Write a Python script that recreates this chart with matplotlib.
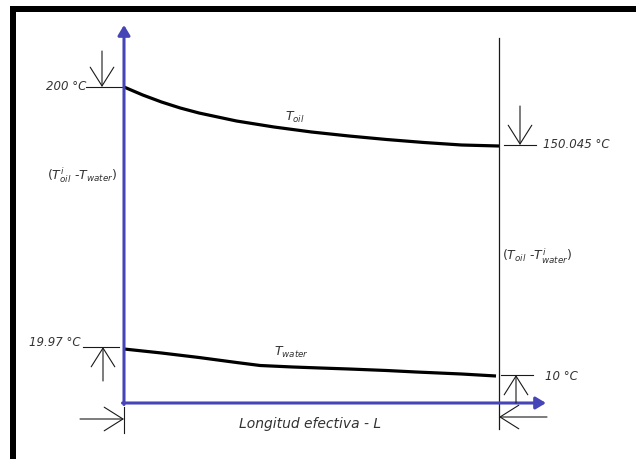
import matplotlib
matplotlib.use("Agg")
import matplotlib.pyplot as plt
from matplotlib.patches import Rectangle

# ---------------- data (schematic drawing units) ----------------
# position along the effective length, as a fraction of L
oil_pos = [0.0, 0.05, 0.10, 0.15, 0.20, 0.30, 0.40, 0.50, 0.60, 0.70, 0.80, 0.90, 1.0]
# drawn height of the oil temperature curve (not to scale)
oil_height = [316, 308, 301, 295, 290, 282, 276, 271, 267, 263.5, 260.5, 258, 257]
water_pos = [0.0, 0.10, 0.20, 0.30, 0.363, 0.45, 0.523, 0.60, 0.70, 0.779, 0.90, 0.992]
water_height = [54, 50, 45.5, 40.5, 37.5, 36, 35, 34, 32.5, 31, 29, 27]

temp_values = [200, 150.045, 19.97, 10]
temp_labels = ["200 °C", "150.045 °C", "19.97 °C", "10 °C"]
curve_labels = [r"$T_{oil}$", r"$T_{water}$"]
diff_labels = [r"$(T_{oil}^{i}\ $-$T_{water})$", r"$(T_{oil}\ $-$T_{water}^{i})$"]
xlabel = "Longitud efectiva - L"

# ---------------- layout helpers (pixel layout -> data) ----------------
W, H = 636, 460
X0, Y0, LPX = 124, 404, 375


def P(px, py):
    return ((px - X0) / LPX, Y0 - py)


fig = plt.figure(figsize=(W / 100, H / 100), dpi=100)
ax = fig.add_axes([0, 0, 1, 1])
ax.set_xlim(P(0, 0)[0], P(W, 0)[0])
ax.set_ylim(P(0, H)[1], P(0, 0)[1])
ax.axis("off")

BLUE = "#4545b8"
TXT = "#333333"
DARK = "#1a1a1a"

# black frame (left and top)
ax.add_patch(Rectangle(P(10, H), 6 / LPX, H - 7, color="black", lw=0))
ax.add_patch(Rectangle(P(10, 13), (W - 10) / LPX, 6, color="black", lw=0))

# blue axes with arrows
ax.annotate("", xy=P(124, 26), xytext=P(124, 405.5),
            arrowprops=dict(arrowstyle="-|>,head_length=0.6,head_width=0.36",
                            color=BLUE, lw=2.2, shrinkA=0, shrinkB=0,
                            mutation_scale=10))
ax.annotate("", xy=P(546, 404), xytext=P(122.5, 404),
            arrowprops=dict(arrowstyle="-|>,head_length=0.6,head_width=0.36",
                            color=BLUE, lw=2.2, shrinkA=0, shrinkB=0,
                            mutation_scale=10))

# right vertical line (end of L)
ax.plot(*zip(P(499, 39), P(499, 430)), color=DARK, lw=0.9)

# curves
ax.plot(oil_pos, oil_height, color="black", lw=2.3, solid_capstyle="butt",
        solid_joinstyle="round")
ax.plot(water_pos, water_height, color="black", lw=2.3, solid_capstyle="butt",
        solid_joinstyle="round")

OPEN = "->,head_length=1.35,head_width=0.85"


def marker_arrow(tip, tail):
    ax.annotate("", xy=P(*tip), xytext=P(*tail),
                arrowprops=dict(arrowstyle=OPEN, color=DARK, lw=0.8,
                                shrinkA=0, shrinkB=0, mutation_scale=10))


def hline(x1, x2, y):
    ax.plot(*zip(P(x1, y), P(x2, y)), color=DARK, lw=0.8)


# 200 °C
hline(86, 122, 88)
marker_arrow((102, 88), (102, 52))
# 150.045 °C
hline(504, 536, 146)
marker_arrow((520, 146), (520, 107))
# 19.97 °C
hline(83, 119, 348)
marker_arrow((103, 348), (103, 382))
# 10 °C
hline(501, 533, 376)
marker_arrow((516, 376), (516, 404))
# length markers
ax.plot(*zip(P(124, 408), P(124, 434)), color=DARK, lw=0.8)
marker_arrow((124, 420), (80, 420))
marker_arrow((499, 418), (547, 418))

tk = dict(color=TXT, fontsize=8.5, style="italic", family="DejaVu Sans")
ax.text(*P(86, 86), temp_labels[0], ha="right", va="center", **tk)
ax.text(*P(543, 145), temp_labels[1], ha="left", va="center", **tk)
ax.text(*P(81, 343), temp_labels[2], ha="right", va="center", **tk)
ax.text(*P(545, 377), temp_labels[3], ha="left", va="center", **tk)

mk = dict(color=TXT, fontsize=9)
ax.text(*P(295, 117), curve_labels[0], ha="center", va="center", **mk)
ax.text(*P(292, 352), curve_labels[1], ha="center", va="center", **mk)
ax.text(*P(82, 175), diff_labels[0], ha="center", va="center", **mk)
ax.text(*P(537, 256), diff_labels[1], ha="center", va="center", **mk)

ax.text(*P(310, 424), xlabel, ha="center", va="center", color=TXT,
        fontsize=10, style="italic", family="DejaVu Sans")

fig.savefig("out.png", dpi=100, facecolor="white")
